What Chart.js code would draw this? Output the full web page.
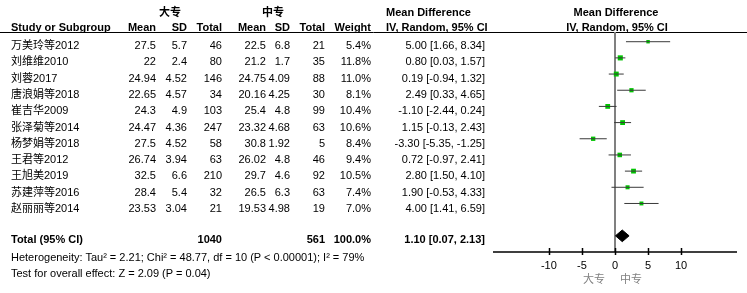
<!DOCTYPE html>
<html>
<head>
<meta charset="utf-8">
<script src="https://cdn.jsdelivr.net/npm/chart.js@4.4.1/dist/chart.umd.min.js"></script>
<style>
  body { margin: 0; background: #fff; }
  #wrap { position: relative; width: 747px; height: 293px; overflow: hidden; }
  #plot { position: absolute; left: 0; top: 0; }
  .t {
    position: absolute; white-space: nowrap; line-height: 14px; height: 14px;
    font-family: "Liberation Sans", Arial, "Noto Sans CJK SC", sans-serif;
    font-size: 11px; color: #000;
  }
  .b { font-weight: bold; }
</style>
</head>
<body>
<div id="wrap">
  <canvas id="plot" width="747" height="293"></canvas>
</div>
<script>
// studies and values, as printed in the table
const studies = ['万美玲等2012', '刘维维2010', '刘蓉2017', '唐浪娟等2018', '崔吉华2009', '张泽菊等2014',
                 '杨梦娟等2018', '王君等2012', '王旭美2019', '苏建萍等2016', '赵丽丽等2014'];
const dzMean  = [27.5, 22, 24.94, 22.65, 24.3, 24.47, 27.5, 26.74, 32.5, 28.4, 23.53];
const dzSD    = [5.7, 2.4, 4.52, 4.57, 4.9, 4.36, 4.52, 3.94, 6.6, 5.4, 3.04];
const dzTotal = [46, 80, 146, 34, 103, 247, 58, 63, 210, 32, 21];
const zzMean  = [22.5, 21.2, 24.75, 20.16, 25.4, 23.32, 30.8, 26.02, 29.7, 26.5, 19.53];
const zzSD    = [6.8, 1.7, 4.09, 4.25, 4.8, 4.68, 1.92, 4.8, 4.6, 6.3, 4.98];
const zzTotal = [21, 35, 88, 30, 99, 63, 5, 46, 92, 63, 19];
const weight  = [5.4, 11.8, 11.0, 8.1, 10.4, 10.6, 8.4, 9.4, 10.5, 7.4, 7.0];
const md      = [5.00, 0.80, 0.19, 2.49, -1.10, 1.15, -3.30, 0.72, 2.80, 1.90, 4.00];
const ciLo    = [1.66, 0.03, -0.94, 0.33, -2.44, -0.13, -5.35, -0.97, 1.50, -0.53, 1.41];
const ciHi    = [8.34, 1.57, 1.32, 4.65, 0.24, 2.43, -1.25, 2.41, 4.10, 4.33, 6.59];

const totalN = [1040, 561];
const totalWeight = 100.0;
const totalMd = [1.10, 0.07, 2.13];   // estimate, lower, upper
const xTicks = [-10, -5, 0, 5, 10];
const heterogeneity = 'Heterogeneity: Tau² = 2.21; Chi² = 48.77, df = 10 (P < 0.00001); I² = 79%';
const overallTest = 'Test for overall effect: Z = 2.09 (P = 0.04)';

// ---- table text (html) ----
const wrap = document.getElementById('wrap');
function txt(s, x, y, align, bold, color) {
    const d = document.createElement('div');
    d.className = 't' + (bold ? ' b' : '');
    d.textContent = s;
    d.style.top = (y - 7) + 'px';
    if (align === 'right') { d.style.left = (x - 300) + 'px'; d.style.width = '300px'; d.style.textAlign = 'right'; }
    else if (align === 'center') { d.style.left = (x - 150) + 'px'; d.style.width = '300px'; d.style.textAlign = 'center'; }
    else d.style.left = x + 'px';
    if (color) d.style.color = color;
    wrap.appendChild(d);
}

const col = { name: 11, m1: 156, s1: 187, n1: 222, m2: 266, s2: 290, n2: 325, w: 371, ci: 485 };
const rowY = i => 45 + 16.3 * i;

txt('大专', 170, 12, 'center', true);
txt('中专', 273, 12, 'center', true);
txt('Mean Difference', 386, 12, 'left', true);
txt('Mean Difference', 616, 12, 'center', true);

txt('Study or Subgroup', col.name, 27, 'left', true);
txt('Mean', col.m1, 27, 'right', true);
txt('SD', col.s1, 27, 'right', true);
txt('Total', col.n1, 27, 'right', true);
txt('Mean', col.m2, 27, 'right', true);
txt('SD', col.s2, 27, 'right', true);
txt('Total', col.n2, 27, 'right', true);
txt('Weight', col.w, 27, 'right', true);
txt('IV, Random, 95% CI', 386, 27, 'left', true);
txt('IV, Random, 95% CI', 617, 27, 'center', true);

studies.forEach((s, i) => {
    const y = rowY(i);
    txt(s, col.name, y, 'left');
    txt(String(dzMean[i]), col.m1, y, 'right');
    txt(String(dzSD[i]), col.s1, y, 'right');
    txt(String(dzTotal[i]), col.n1, y, 'right');
    txt(String(zzMean[i]), col.m2, y, 'right');
    txt(String(zzSD[i]), col.s2, y, 'right');
    txt(String(zzTotal[i]), col.n2, y, 'right');
    txt(weight[i].toFixed(1) + '%', col.w, y, 'right');
    txt(md[i].toFixed(2) + ' [' + ciLo[i].toFixed(2) + ', ' + ciHi[i].toFixed(2) + ']', col.ci, y, 'right');
});

txt('Total (95% CI)', col.name, 239, 'left', true);
txt(String(totalN[0]), col.n1, 239, 'right', true);
txt(String(totalN[1]), col.n2, 239, 'right', true);
txt(totalWeight.toFixed(1) + '%', col.w, 239, 'right', true);
txt(totalMd[0].toFixed(2) + ' [' + totalMd[1].toFixed(2) + ', ' + totalMd[2].toFixed(2) + ']', col.ci, 239, 'right', true);
txt(heterogeneity, col.name, 256.5, 'left');
txt(overallTest, col.name, 273, 'left');

txt('大专', 605, 279, 'right', false, '#808080');
txt('中专', 620, 279, 'left', false, '#808080');

// ---- forest plot ----
const DIAMOND_ROW = studies.length + 1;

// header rule, zero line, bottom axis with ticks
const forestDecor = {
    id: 'forestDecor',
    beforeDatasetsDraw(chart) {
        const { ctx, chartArea: a, scales: { x } } = chart;
        ctx.save();
        ctx.strokeStyle = '#000';
        ctx.lineWidth = 1;
        ctx.beginPath();
        ctx.moveTo(0, a.top + 0.5);
        ctx.lineTo(chart.width, a.top + 0.5);
        ctx.stroke();

        const x0 = Math.round(x.getPixelForValue(0));
        ctx.strokeStyle = '#808080';
        ctx.lineWidth = 2;
        ctx.beginPath();
        ctx.moveTo(x0, a.top);
        ctx.lineTo(x0, a.bottom);
        ctx.stroke();

        ctx.strokeStyle = '#000';
        ctx.lineWidth = 1.5;
        ctx.beginPath();
        ctx.moveTo(a.left, a.bottom);
        ctx.lineTo(a.right, a.bottom);
        xTicks.forEach(v => {
            const px = Math.round(x.getPixelForValue(v)) + 0.5;
            ctx.moveTo(px, a.bottom - 4);
            ctx.lineTo(px, a.bottom + 3);
        });
        ctx.stroke();
        ctx.restore();
    }
};

const ciSets = studies.map((s, i) => ({
    label: s,
    data: [{ x: ciLo[i], y: i }, { x: ciHi[i], y: i }],
    showLine: true,
    borderColor: '#3a3a3a',
    borderWidth: 1,
    pointRadius: 0
}));

new Chart(document.getElementById('plot'), {
    type: 'scatter',
    data: {
        datasets: [
            ...ciSets,
            {
                label: 'Mean difference',
                data: md.map((v, i) => ({ x: v, y: i })),
                pointStyle: 'rect',
                pointRadius: weight.map(w => 1.05 * Math.sqrt(w)),
                backgroundColor: '#00c400',
                borderWidth: 0
            },
            {
                label: 'Total',
                data: [
                    { x: totalMd[1], y: DIAMOND_ROW },
                    { x: totalMd[0], y: DIAMOND_ROW - 0.36 },
                    { x: totalMd[2], y: DIAMOND_ROW },
                    { x: totalMd[0], y: DIAMOND_ROW + 0.36 },
                    { x: totalMd[1], y: DIAMOND_ROW }
                ],
                showLine: true,
                fill: 'shape',
                backgroundColor: '#000',
                borderColor: '#000',
                borderWidth: 1,
                pointRadius: 0,
                tension: 0
            }
        ]
    },
    options: {
        responsive: false,
        animation: false,
        layout: { padding: { left: 493, right: 10, top: 32, bottom: 0 } },
        plugins: {
            legend: { display: false },
            tooltip: { enabled: false }
        },
        scales: {
            x: {
                type: 'linear',
                min: -18.45,
                max: 18.45,
                afterBuildTicks: s => { s.ticks = xTicks.map(v => ({ value: v })); },
                afterFit: s => { s.height = 41; },
                grid: { display: false, tickLength: 0 },
                border: { display: false },
                ticks: {
                    color: '#000',
                    padding: 7,
                    font: { family: '"Liberation Sans", Arial, sans-serif', size: 11 }
                }
            },
            y: {
                type: 'linear',
                display: false,
                reverse: true,
                min: -0.6,
                max: DIAMOND_ROW + 1
            }
        }
    },
    plugins: [forestDecor]
});
</script>
</body>
</html>
